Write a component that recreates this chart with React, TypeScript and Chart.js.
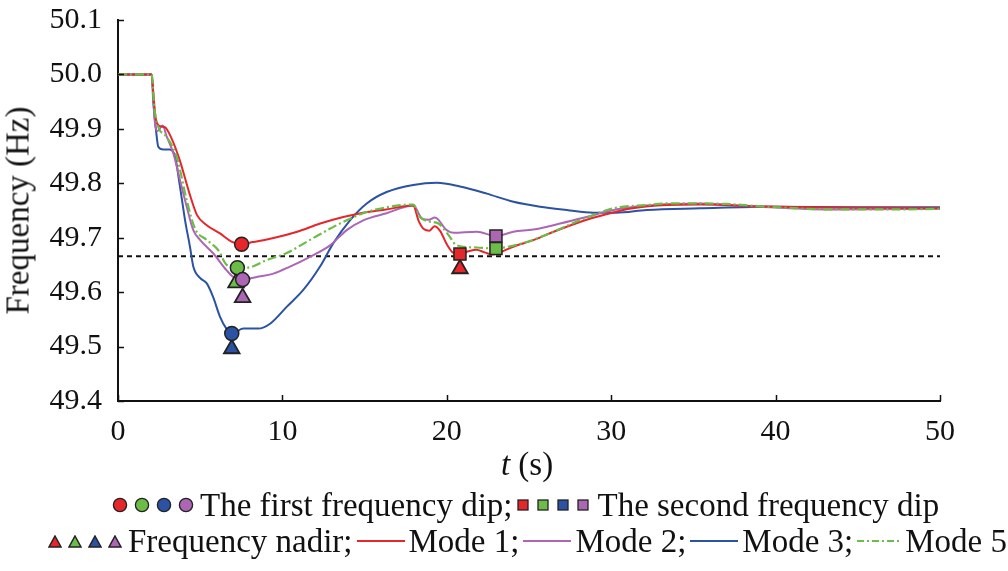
import { useEffect, useRef } from 'react';
import { Chart } from 'chart.js/auto';
import type { ChartConfiguration, Plugin } from 'chart.js';

// Frequency response after a disturbance, four control modes, with the
// first dip / second dip / nadir markers and the 49.666 Hz threshold.

const RED = '#e5262b';
const GREEN = '#6cbd47';
const BLUE = '#2b52a3';
const PURPLE = '#ac66b3';
const SERIF = "'Liberation Serif', serif";

const xTicks = [0, 10, 20, 30, 40, 50];
const yTicks = [49.4, 49.5, 49.6, 49.7, 49.8, 49.9, 50.0, 50.1];

const mode1T = [0, 2.05, 2.15, 2.3, 2.55, 2.85, 3.25, 3.75, 4.35, 4.8, 5.4, 6.2, 6.9, 7.5, 8.2, 9.4, 10.9, 12.3, 13.7, 14.9, 16.3, 17.95, 18.3, 18.6, 18.95, 19.25, 19.6, 20.0, 20.4, 20.8, 21.3, 21.8, 22.3, 22.8, 23.4, 24.0, 25.3, 26.5, 28.1, 29.7, 31.3, 33.4, 35.4, 38.8, 42, 46, 50];
const mode1F = [50.0, 50.0, 49.965, 49.918, 49.905, 49.903, 49.883, 49.843, 49.781, 49.742, 49.723, 49.708, 49.693, 49.688, 49.692, 49.699, 49.711, 49.726, 49.738, 49.746, 49.752, 49.759, 49.730, 49.716, 49.713, 49.721, 49.712, 49.688, 49.672, 49.670, 49.675, 49.678, 49.673, 49.669, 49.675, 49.683, 49.696, 49.711, 49.729, 49.743, 49.754, 49.760, 49.761, 49.758, 49.756, 49.755, 49.754];

const mode2T = [0, 2.05, 2.25, 2.4, 2.72, 2.96, 3.37, 3.77, 4.18, 4.58, 4.99, 5.8, 6.61, 7.01, 7.58, 8.43, 9.45, 10.46, 11.68, 12.9, 13.91, 14.92, 16.34, 17.96, 18.5, 18.9, 19.28, 19.99, 20.4, 21.82, 23.0, 24.05, 25.26, 26.89, 28.5, 30.13, 32.16, 33.78, 35.4, 38.4, 43.5, 50];
const mode2F = [50.0, 50.0, 49.91, 49.896, 49.906, 49.886, 49.855, 49.806, 49.757, 49.714, 49.696, 49.671, 49.640, 49.628, 49.623, 49.628, 49.634, 49.647, 49.665, 49.686, 49.714, 49.732, 49.745, 49.759, 49.735, 49.733, 49.737, 49.714, 49.709, 49.711, 49.703, 49.711, 49.715, 49.726, 49.738, 49.751, 49.759, 49.762, 49.763, 49.758, 49.752, 49.753];

const mode3T = [0, 2.05, 2.15, 2.31, 2.45, 2.76, 3.16, 3.47, 3.77, 4.08, 4.38, 4.58, 4.99, 5.4, 5.8, 6.2, 6.61, 6.92, 7.62, 8.53, 9.25, 10.26, 11.27, 12.29, 13.1, 14.11, 15.13, 16.34, 17.96, 19.4, 20.8, 22.43, 24.05, 25.67, 27.29, 28.91, 30.3, 32.16, 35.4, 39.5, 45, 50];
const mode3F = [50.0, 50.0, 49.947, 49.898, 49.867, 49.862, 49.862, 49.849, 49.794, 49.732, 49.683, 49.647, 49.626, 49.616, 49.59, 49.555, 49.532, 49.524, 49.533, 49.533, 49.542, 49.573, 49.604, 49.647, 49.690, 49.732, 49.763, 49.784, 49.797, 49.801, 49.794, 49.781, 49.766, 49.757, 49.751, 49.746, 49.746, 49.751, 49.754, 49.757, 49.756, 49.756];

const mode5T = [0, 2.05, 2.2, 2.5, 2.86, 3.57, 4.18, 4.68, 5.39, 6.1, 6.61, 7.25, 7.83, 9.05, 10.26, 11.68, 13.3, 14.92, 16.34, 17.96, 18.37, 18.9, 19.49, 20.1, 20.6, 21.82, 23.0, 23.64, 24.86, 26.48, 28.1, 30.13, 32.16, 33.4, 35.2, 37.0, 39.5, 43.5, 47.6, 50];
const mode5F = [50.0, 50.0, 49.94, 49.9, 49.889, 49.849, 49.769, 49.717, 49.696, 49.677, 49.650, 49.645, 49.645, 49.659, 49.672, 49.696, 49.723, 49.745, 49.756, 49.761, 49.738, 49.73, 49.726, 49.705, 49.686, 49.682, 49.680, 49.683, 49.692, 49.711, 49.732, 49.754, 49.760, 49.763, 49.763, 49.762, 49.757, 49.752, 49.752, 49.753];

const thresholdF = 49.666;

// markers: first dip (circles), second dip (squares), nadir (triangles)
const firstDipT = [7.52, 7.26, 6.92, 7.58];
const firstDipF = [49.688, 49.645, 49.524, 49.623];
const firstDipColors = [RED, GREEN, BLUE, PURPLE];
const secondDipT = [20.8, 22.99, 22.99];
const secondDipF = [49.670, 49.680, 49.703];
const secondDipColors = [RED, GREEN, PURPLE];
const nadirT = [20.8, 7.18, 6.92, 7.58];
const nadirF = [49.643, 49.617, 49.496, 49.590];
const nadirColors = [RED, GREEN, BLUE, PURPLE];

const pts = (t: number[], f: number[]) => t.map((x, i) => ({ x, y: f[i] }));

const innerTicks: Plugin<'line'> = {
  id: 'innerTicks',
  afterDraw(chart) {
    const { ctx, chartArea, scales } = chart;
    ctx.save();
    ctx.strokeStyle = '#111';
    ctx.lineWidth = 1.5;
    ctx.beginPath();
    for (const v of yTicks) {
      const y = Math.round(scales.y.getPixelForValue(v)) + 0.5;
      ctx.moveTo(chartArea.left, y);
      ctx.lineTo(chartArea.left + 6, y);
    }
    for (const v of xTicks) {
      const x = Math.round(scales.x.getPixelForValue(v)) + 0.5;
      ctx.moveTo(x, chartArea.bottom);
      ctx.lineTo(x, chartArea.bottom - 6);
    }
    ctx.stroke();
    ctx.restore();
  },
};

function Circle({ color }: { color: string }) {
  return (
    <svg width="16" height="16" style={{ marginRight: 6 }}>
      <circle cx="8" cy="8" r="6.6" fill={color} stroke="#222" strokeWidth="1.3" />
    </svg>
  );
}

function Square({ color }: { color: string }) {
  return (
    <svg width="12" height="12" style={{ marginRight: 8 }}>
      <rect x="1" y="1" width="10" height="10" fill={color} stroke="#222" strokeWidth="1.3" />
    </svg>
  );
}

function Tri({ color }: { color: string }) {
  return (
    <svg width="14" height="13" style={{ marginRight: 6 }}>
      <polygon points="7,1 13,12 1,12" fill={color} stroke="#222" strokeWidth="1.5" strokeLinejoin="miter" />
    </svg>
  );
}

function LineSample({ color, dash, width = 48 }: { color: string; dash?: string; width?: number }) {
  return (
    <svg width={width} height="6" style={{ margin: '0 4px' }}>
      <line x1="0" y1="3" x2={width} y2="3" stroke={color} strokeWidth="2" strokeDasharray={dash} />
    </svg>
  );
}

const rowStyle: React.CSSProperties = {
  position: 'absolute',
  display: 'flex',
  alignItems: 'center',
  whiteSpace: 'nowrap',
  fontFamily: SERIF,
  fontSize: 33,
  lineHeight: '34px',
  height: 34,
  color: '#111',
};

export default function App() {
  const canvasRef = useRef<HTMLCanvasElement>(null);

  useEffect(() => {
    document.body.style.margin = '0';
    const canvas = canvasRef.current;
    if (!canvas) return;

    const line = (t: number[], f: number[], color: string, order: number, dash?: number[], width = 2) => ({
      data: pts(t, f),
      borderColor: color,
      backgroundColor: color,
      borderWidth: width,
      borderDash: dash ?? [],
      pointRadius: 0,
      cubicInterpolationMode: 'monotone' as const,
      order,
    });

    const config: ChartConfiguration<'line'> = {
      type: 'line',
      data: {
        datasets: [
          {
            data: pts(firstDipT, firstDipF),
            showLine: false,
            pointStyle: 'circle',
            pointRadius: 7,
            pointBorderWidth: 1.5,
            pointBackgroundColor: firstDipColors,
            pointBorderColor: '#222',
            order: 0,
          },
          {
            data: pts(secondDipT, secondDipF),
            showLine: false,
            pointStyle: 'rect',
            pointRadius: 8.5,
            pointBorderWidth: 1.5,
            pointBackgroundColor: secondDipColors,
            pointBorderColor: '#222',
            order: 1,
          },
          {
            data: pts(nadirT, nadirF),
            showLine: false,
            pointStyle: 'triangle',
            pointRadius: 9,
            pointBorderWidth: 1.8,
            pointBackgroundColor: nadirColors,
            pointBorderColor: '#222',
            order: 2,
          },
          line(mode5T, mode5F, GREEN, 3, [9, 3, 2, 3], 2.2),
          line(mode1T, mode1F, RED, 4),
          line(mode2T, mode2F, PURPLE, 5),
          line(mode3T, mode3F, BLUE, 6),
          {
            data: [{ x: 0, y: thresholdF }, { x: 50, y: thresholdF }],
            borderColor: '#111',
            borderWidth: 2,
            borderDash: [5, 4],
            pointRadius: 0,
            order: 7,
          },
        ],
      },
      options: {
        responsive: false,
        animation: false,
        events: [],
        layout: { padding: { left: 0, top: 20, right: 68, bottom: 0 } },
        scales: {
          x: {
            type: 'linear',
            min: 0,
            max: 50,
            afterBuildTicks: (s) => {
              s.ticks = xTicks.map((value) => ({ value }));
            },
            afterFit: (s) => {
              s.height = 170;
            },
            grid: { display: true, drawOnChartArea: false, drawTicks: false },
            border: { display: true, color: '#111', width: 2 },
            ticks: { color: '#111', font: { family: SERIF, size: 30 }, padding: 13, maxRotation: 0 },
          },
          y: {
            type: 'linear',
            min: 49.4,
            max: 50.1,
            afterBuildTicks: (s) => {
              s.ticks = yTicks.map((value) => ({ value }));
            },
            afterFit: (s) => {
              s.width = 118;
            },
            grid: { display: true, drawOnChartArea: false, drawTicks: false },
            border: { display: true, color: '#111', width: 2 },
            ticks: {
              color: '#111',
              // tiny lineHeight keeps the label box from pushing the plot top down
              font: { family: SERIF, size: 30, lineHeight: 0.1 },
              padding: 16,
              callback: (v) => Number(v).toFixed(1),
            },
          },
        },
        plugins: {
          legend: { display: false },
          tooltip: { enabled: false },
        },
      },
      plugins: [innerTicks],
    };

    const chart = new Chart(canvas, config);
    return () => chart.destroy();
  }, []);

  return (
    <div style={{ position: 'relative', width: 1008, height: 571, background: '#fff', overflow: 'hidden' }}>
      <canvas ref={canvasRef} width={1008} height={571} style={{ position: 'absolute', left: 0, top: 0 }} />
      <div
        style={{
          position: 'absolute',
          left: 18 - 150,
          top: 210 - 16.5,
          width: 300,
          height: 33,
          lineHeight: '33px',
          textAlign: 'center',
          transform: 'rotate(-90deg)',
          fontFamily: SERIF,
          fontSize: 33,
          color: '#111',
          whiteSpace: 'nowrap',
        }}
      >
        Frequency (Hz)
      </div>
      <div
        style={{
          position: 'absolute',
          left: 427,
          top: 448,
          width: 200,
          lineHeight: '33px',
          textAlign: 'center',
          fontFamily: SERIF,
          fontSize: 33,
          color: '#111',
        }}
      >
        <i>t</i> (s)
      </div>
      <div style={{ ...rowStyle, left: 112, top: 488 }}>
        {firstDipColors.map((c) => (
          <Circle key={c} color={c} />
        ))}
        <span>The first frequency dip;</span>
        <span style={{ width: 5 }} />
        {[RED, GREEN, BLUE, PURPLE].map((c) => (
          <Square key={c} color={c} />
        ))}
        <span>The second frequency dip</span>
      </div>
      <div style={{ ...rowStyle, left: 48, top: 524 }}>
        {nadirColors.map((c) => (
          <Tri key={c} color={c} />
        ))}
        <span>Frequency nadir;</span>
        <LineSample color={RED} />
        <span>Mode 1;</span>
        <LineSample color={PURPLE} />
        <span>Mode 2;</span>
        <LineSample color={BLUE} />
        <span>Mode 3;</span>
        <LineSample color={GREEN} dash="7 3 2 3" width={44} />
        <span>Mode 5</span>
      </div>
    </div>
  );
}
